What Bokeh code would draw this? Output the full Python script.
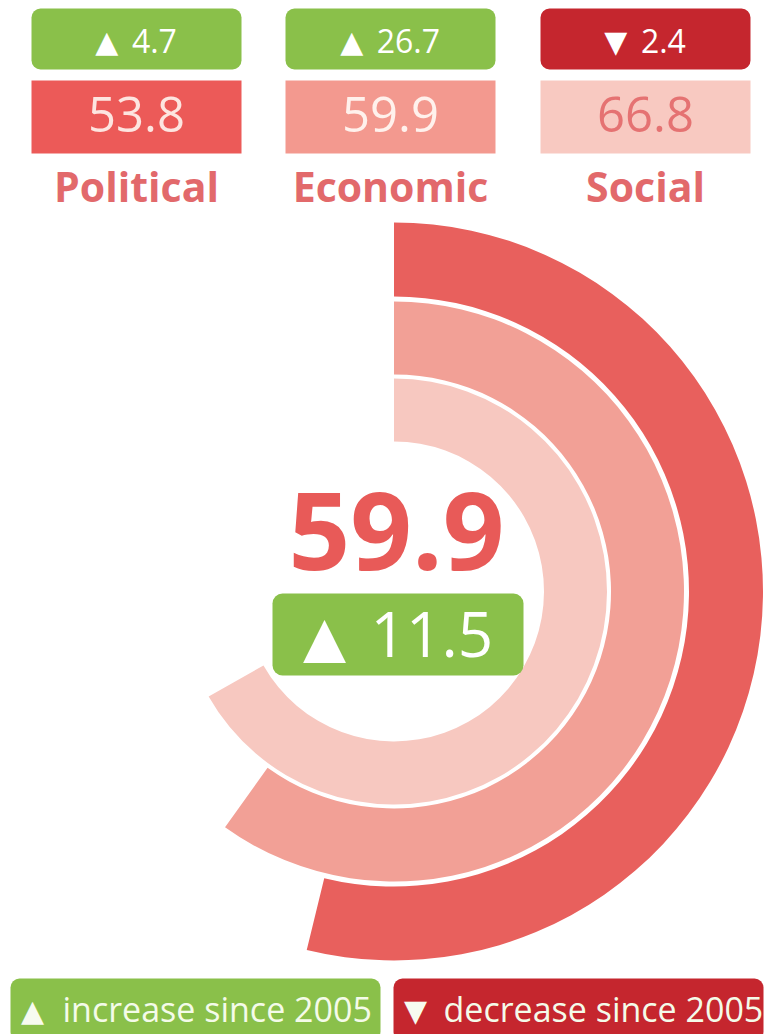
import math
from bokeh.plotting import figure
from bokeh.models import Range1d, ColumnDataSource
from bokeh.core.properties import value
from bokeh.embed import file_html
from bokeh.resources import INLINE

# ---------------- data ----------------
categories = ["Political", "Economic", "Social"]
scores = [53.8, 59.9, 66.8]
changes = [4.7, 26.7, -2.4]
overall_score = 59.9
overall_change = 11.5
legend_symbols = ["\u25b2", "\u25bc"]
legend_labels = ["increase since 2005", "decrease since 2005"]

# ---------------- style ----------------
arc_colors = ["#e8605d", "#f2a096", "#f7c8c0"]
box_colors = ["#ec5a58", "#f3998f", "#f8c9c1"]
value_text_colors = ["#fde5e0", "#fff1ec", "#e57272"]
label_color = "#e2696b"
green = "#8ac04a"
dark_red = "#c5262e"
FONT = value("Open Sans")
SYM = value("DejaVu Sans")

W, H = 769, 1034
SHIFT = 0.37  # alphabetic baseline correction (em)


def Y(py):
    return H - py


def B(py, size):
    """data y for a text whose baseline should sit at picture row py"""
    return Y(py - SHIFT * size)


def sym(c):
    return "\u25b2" if c >= 0 else "\u25bc"


def num_w(s, size):
    return sum(0.27 if ch == "." else 0.572 for ch in s) * size


p = figure(width=W, height=H, output_backend="svg", toolbar_location=None,
           x_range=Range1d(0, W), y_range=Range1d(0, H),
           min_border=0, background_fill_color="white", border_fill_color="white")
p.axis.visible = False
p.grid.visible = False
p.outline_line_color = None

# ---------------- top boxes ----------------
col_x = [136, 390, 645]
box_w = 210
d_num = [f"{abs(c):.1f}" for c in changes]
d_sym = [sym(c) for c in changes]
d_col = [green if c >= 0 else dark_red for c in changes]
grp = [22 + 14 + num_w(s, 32) for s in d_num]
sym_x = [x - g / 2 + 11 for x, g in zip(col_x, grp)]
num_x = [x - g / 2 + 36 for x, g in zip(col_x, grp)]

top = ColumnDataSource(dict(
    left=[x - box_w / 2 for x in col_x], right=[x + box_w / 2 for x in col_x],
    x=col_x, cat=categories, val=[f"{s:.1f}" for s in scores],
    dnum=d_num, dsym=d_sym, sx=sym_x, nx=num_x,
    dcol=d_col, bcol=box_colors, vcol=value_text_colors,
))
p.quad(left="left", right="right", top=Y(8), bottom=Y(69), fill_color="dcol",
       line_color=None, border_radius=9, source=top)
p.quad(left="left", right="right", top=Y(80), bottom=Y(153), fill_color="bcol",
       line_color=None, source=top)
p.text(x="sx", y=B(52, 30), text="dsym", text_color="white", text_font=SYM,
       text_font_size="30px", text_align="center", text_baseline="alphabetic",
       source=top)
p.text(x="nx", y=B(52, 32), text="dnum", text_color="white", text_font=FONT,
       text_font_size="32px", text_align="left", text_baseline="alphabetic",
       source=top)
p.text(x="x", y=B(132, 49), text="val", text_color="vcol", text_font=FONT,
       text_font_size="49px", text_align="center", text_baseline="alphabetic",
       source=top)
p.text(x="x", y=B(201, 41), text="cat", text_color=label_color, text_font=FONT,
       text_font_size="41px", text_font_style="bold", text_align="center",
       text_baseline="alphabetic", source=top)

# ---------------- radial arcs ----------------
cx, cy = 393.5, Y(591)
inner_r = [295, 217, 150]
outer_r = [369, 290, 213]
arcs = ColumnDataSource(dict(
    ir=inner_r, orr=outer_r, color=arc_colors,
    end=[math.pi / 2 - s / 100 * 2 * math.pi for s in scores],
))
p.annular_wedge(x=cx, y=cy, inner_radius="ir", outer_radius="orr",
                start_angle=math.pi / 2, end_angle="end", direction="clock",
                fill_color="color", line_color=None, source=arcs)

# ---------------- centre ----------------
p.text(x=[396], y=[B(570, 108)], text=[f"{overall_score:.1f}"], text_color="#e85a58",
       text_font=FONT, text_font_size="108px", text_font_style="bold",
       text_align="center", text_baseline="alphabetic")
p.quad(left=272, right=523, top=Y(593), bottom=Y(675),
       fill_color=green if overall_change >= 0 else dark_red,
       line_color=None, border_radius=10)
p.text(x=[324], y=[B(657, 56)], text=[sym(overall_change)], text_color="white",
       text_font=SYM, text_font_size="56px", text_align="center",
       text_baseline="alphabetic")
p.text(x=[370], y=[B(657, 62)], text=[f"{abs(overall_change):.1f}"],
       text_color="white", text_font=FONT, text_font_size="62px",
       text_align="left", text_baseline="alphabetic")

# ---------------- legend ----------------
leg = ColumnDataSource(dict(left=[10, 393], right=[380, 763], sx=[32, 415],
                            nx=[62, 443], col=[green, dark_red],
                            sym=legend_symbols, lab=legend_labels))
p.quad(left="left", right="right", top=Y(978), bottom=Y(1040), fill_color="col",
       line_color=None, border_radius=9, source=leg)
p.text(x="sx", y=B(1021, 30), text="sym", text_color="#f7fbf0", text_font=SYM,
       text_font_size="30px", text_align="center", text_baseline="alphabetic",
       source=leg)
p.text(x="nx", y=B(1021, 34), text="lab", text_color="#f4fbe9", text_font=FONT,
       text_font_size="34px", text_align="left", text_baseline="alphabetic",
       source=leg)

open("out.html", "w").write(file_html(p, INLINE))
